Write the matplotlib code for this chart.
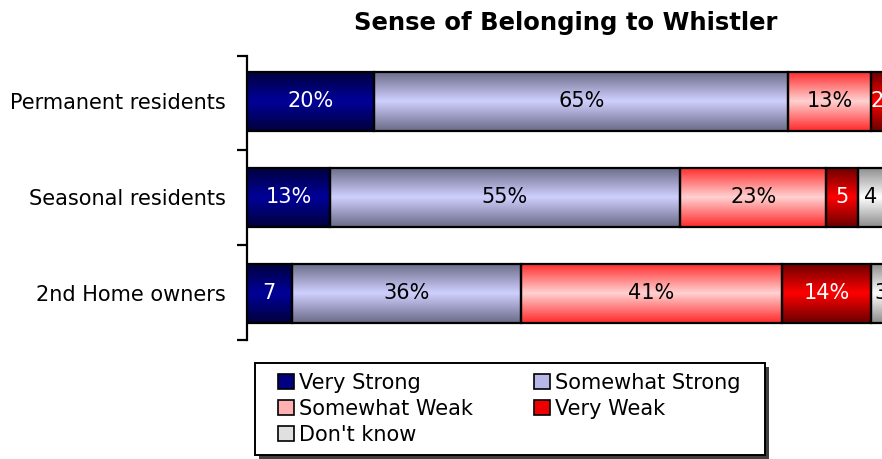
import matplotlib.pyplot as plt
import numpy as np
from matplotlib.colors import LinearSegmentedColormap
from matplotlib.patches import Patch, Rectangle

plt.rcParams['font.family'] = ['DejaVu Sans']

groups = ['Permanent residents', 'Seasonal residents', '2nd Home owners']
categories = ['Very Strong', 'Somewhat Strong', 'Somewhat Weak', 'Very Weak', "Don't know"]
very_strong = [20, 13, 7]
somewhat_strong = [65, 55, 36]
somewhat_weak = [13, 23, 41]
very_weak = [2, 5, 14]
dont_know = [0, 4, 3]
series = [very_strong, somewhat_strong, somewhat_weak, very_weak, dont_know]

# (edge colour, centre colour) of the shaded fill, text colour
edge_cols = ['#00003c', '#6a6a88', '#ff2a2a', '#6a0000', '#8c8c8c']
mid_cols = ['#00009a', '#d0d0ff', '#ffd2d2', '#ff0000', '#ffffff']
txt_cols = ['white', 'black', 'black', 'white', 'black']
legend_cols = ['#000080', '#b8b8e8', '#ffb0b0', '#ee0000', '#e0e0e0']

fig = plt.figure(figsize=(8.82, 4.59), dpi=100)
ax = fig.add_axes([0.280, 0.259, 0.722, 0.619])

y = np.arange(len(groups))
h = 0.615
grad = np.linspace(0, 1, 128).reshape(-1, 1)
left = np.zeros(len(groups))
for vals, ec, mc, tc in zip(series, edge_cols, mid_cols, txt_cols):
    cmap = LinearSegmentedColormap.from_list('g', [ec, mc, ec])
    bars = ax.barh(y, vals, left=left, height=h, facecolor='none',
                   edgecolor='black', linewidth=1.6, zorder=3)
    for b, v, l in zip(bars, vals, left):
        if v == 0:
            continue
        x0, y0 = b.get_x(), b.get_y()
        im = ax.imshow(grad, extent=(x0, x0 + b.get_width(), y0 + h, y0),
                       cmap=cmap, aspect='auto', interpolation='bilinear',
                       zorder=2)
        im.set_clip_path(b)
        lab = f'{v}%' if v >= 10 else f'{v}'
        ax.text(l + v / 2, b.get_y() + h / 2, lab, ha='center', va='center',
                color=tc, fontsize=15, zorder=4)
    left = left + np.array(vals)

ax.set_xlim(0, 100)
ax.set_ylim(2.49, -0.47)
for s in ['top', 'right', 'bottom']:
    ax.spines[s].set_visible(False)
ax.spines['left'].set_linewidth(1.6)
ax.set_xticks([])
ax.set_yticks(y)
ax.set_yticklabels(groups, fontsize=15)
ax.tick_params(axis='y', which='major', length=0, pad=15)
ax.set_yticks([-0.47, 0.51, 1.5, 2.49], minor=True)
ax.tick_params(axis='y', which='minor', length=7, width=1.6, direction='out')

ax.set_title('Sense of Belonging to Whistler', fontsize=17.5, fontweight='bold', pad=19)

# legend box (with drop shadow) drawn separately so entries sit inset from the frame
bx, by, bw, bh = 255 / 882, 1 - 455 / 459, 510 / 882, 92 / 459
fig.add_artist(Rectangle((bx + 4 / 882, by - 4 / 459), bw, bh, transform=fig.transFigure,
                         facecolor='#404040', edgecolor='none', zorder=0.5))
fig.add_artist(Rectangle((bx, by), bw, bh, transform=fig.transFigure,
                         facecolor='white', edgecolor='black', linewidth=1.4, zorder=1))

# matplotlib fills legend columns first; reorder so rows read like the original
order = [0, 2, 4, 1, 3]
handles = [Patch(facecolor=legend_cols[i], edgecolor='black', linewidth=1.2) for i in order]
labels = [categories[i] for i in order]
leg = fig.legend(handles, labels, loc='upper left', ncol=2,
                 bbox_to_anchor=(278 / 882, 1 - 373 / 459),
                 borderaxespad=0, borderpad=0, fontsize=15, frameon=False,
                 handlelength=0.75, handleheight=0.75, handletextpad=0.25,
                 labelspacing=0.28, columnspacing=2.95)
leg.set_zorder(2)

fig.savefig('out.png', dpi=100)
